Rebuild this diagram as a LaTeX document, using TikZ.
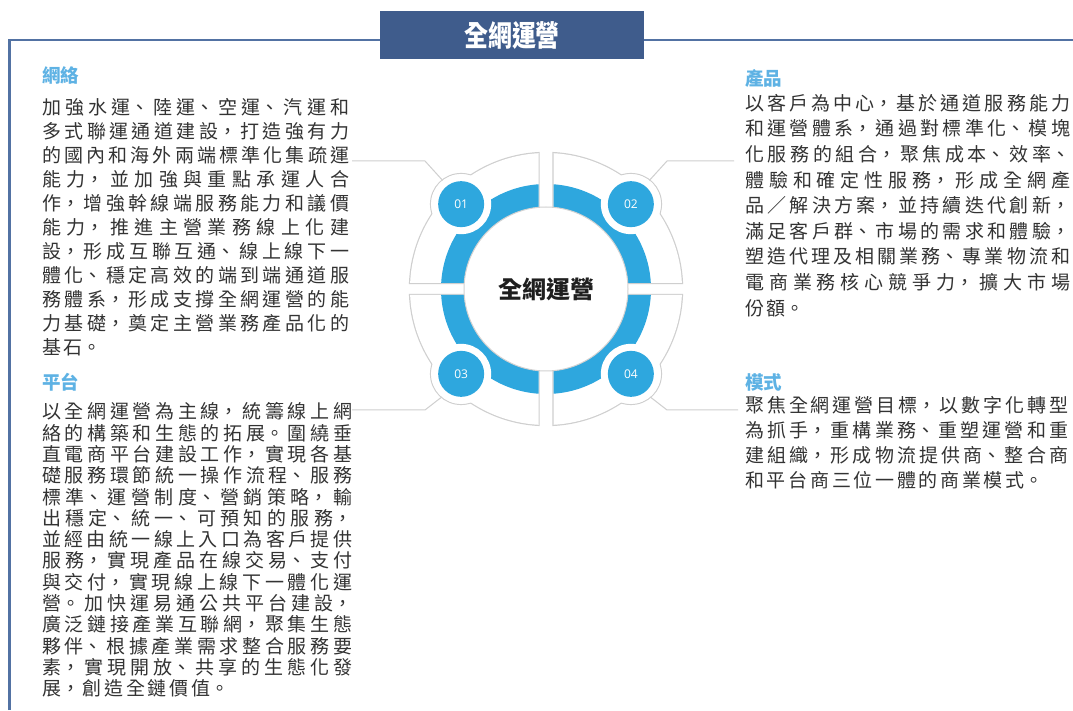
\documentclass[tikz,border=0pt]{standalone}
\usepackage{graphicx}
\usepackage{fontspec}
\setmainfont{Noto Sans CJK TC}
\newfontfamily\numfont{Open Sans}
\usetikzlibrary{calc}
\XeTeXlinebreaklocale "zh"
\XeTeXlinebreakskip=0pt plus 1fil
\definecolor{hdrblue}{HTML}{3F5C8C}
\definecolor{framecol}{HTML}{5272A3}
\definecolor{ringblue}{HTML}{2EA7DE}
\definecolor{headblue}{HTML}{5EB2E4}
\definecolor{textgray}{HTML}{333333}
\definecolor{secgray}{HTML}{CFCFCF}
\newcommand{\bodysetup}{\parindent=0pt\parfillskip=0pt plus 1fill\XeTeXlinebreakskip=2.7pt plus 1fil\relax}
\begin{document}
\begin{tikzpicture}[x=1pt,y=1pt,
  frame/.style={draw=framecol, line width=2.6pt},
  secline/.style={draw=secgray, line width=2.4pt},
  conn/.style={draw=secgray, line width=1pt},
  bump/.style={circle, fill=white, minimum size=60pt, inner sep=0pt},
  num/.style={circle, fill=ringblue, minimum size=46pt, inner sep=0pt, text=white, font=\numfont\fontsize{12}{14}\selectfont},
  head/.style={anchor=west, inner sep=0pt, text=headblue, font=\bfseries\fontsize{18.5}{20}\selectfont},
  body/.style={anchor=north west, inner sep=0pt, text=textgray}
]
\useasboundingbox (0,0) rectangle (1073,710);
\fill[white] (0,0) rectangle (1073,710);
\coordinate (C) at (546,421);

% header and frame
\node[fill=hdrblue, minimum width=264pt, minimum height=48pt, inner sep=0pt, text=white, font=\bfseries\fontsize{26}{28}\selectfont] (hdr) at (512,675) {\raisebox{1.5pt}{\scalebox{0.92}[1.12]{全網運營}}};
\coordinate (f1) at (9.5,0);
\coordinate (f2) at (9.5,670);
\coordinate (f3) at (1073,670);
\draw[frame] (f1) -- (f2) -- (hdr.west |- f2);
\draw[frame] (hdr.east |- f2) -- (f3);

% gray sectors (union outline)
\foreach \s/\e/\xx/\yy in {93.16/177.47/538.5/427, 86.84/2.53/553.5/427, 266.84/182.53/538.5/415, 273.16/357.47/553.5/415}{
  \draw[secline] (\xx,\yy) -- ($(C)+(\s:136pt)$) arc[start angle=\s,end angle=\e,radius=136pt] -- cycle;
}
\foreach \a in {45,135,225,315}{
  \draw[secline] ($(C)+(\a:120pt)$) circle (30pt);
}
\foreach \s/\e/\xx/\yy in {93.16/177.47/538.5/427, 86.84/2.53/553.5/427, 266.84/182.53/538.5/415, 273.16/357.47/553.5/415}{
  \fill[white] (\xx,\yy) -- ($(C)+(\s:136pt)$) arc[start angle=\s,end angle=\e,radius=136pt] -- cycle;
}
\foreach \a in {45,135,225,315}{
  \fill[white] ($(C)+(\a:120pt)$) circle (30pt);
}

% blue ring
\begin{scope}
  \clip (400,427) rectangle (538.5,560) (553.5,427) rectangle (700,560)
        (400,280) rectangle (538.5,415) (553.5,280) rectangle (700,415);
  \fill[ringblue] (C) circle (105pt);
\end{scope}

% bumps and numbers
\node[bump] (b1) at ($(C)+(135:120pt)$) {};
\node[bump] (b2) at ($(C)+(45:120pt)$) {};
\node[bump] (b3) at ($(C)+(225:120pt)$) {};
\node[bump] (b4) at ($(C)+(315:120pt)$) {};
\node[num] (n1) at (b1) {01};
\node[num] (n2) at (b2) {02};
\node[num] (n3) at (b3) {03};
\node[num] (n4) at (b4) {04};

% centre
\node[circle, fill=white, draw=black!18, line width=1pt, minimum size=164pt, inner sep=0pt,
      font=\bfseries\fontsize{24}{28}\selectfont, text=black!88] (c) at (C) {全網運營};

% connectors
\coordinate (k1) at (425,549); \coordinate (t1) at (352,549);
\coordinate (k2) at (667,549); \coordinate (t2) at (734,549);
\coordinate (k3) at (425,300); \coordinate (t3) at (352,300);
\coordinate (k4) at (667,300); \coordinate (t4) at (738,300);
\draw[conn] (b1.128) -- (k1) -- (t1);
\draw[conn] (b2.52) -- (k2) -- (t2);
\draw[conn] (b3.230) -- (k3) -- (t3);
\draw[conn] (b4.310) -- (k4) -- (t4);

% headings
\node[head] (h1) at (42,635) {網絡};
\node[head] (h2) at (745,632) {產品};
\node[head] (h3) at (42,328) {平台};
\node[head] (h4) at (745,328) {模式};

% bodies
\node[body, text width=307pt, font=\fontsize{19}{24}\selectfont] (p1) at (42,612) {\bodysetup
加強水運、陸運、空運、汽運和\break
多式聯運通道建設，打造強有力\break
的國內和海外兩端標準化集疏運\break
能力，並加強與重點承運人合\break
作，增強幹線端服務能力和議價\break
能力，推進主營業務線上化建\break
設，形成互聯互通、線上線下一\break
體化、穩定高效的端到端通道服\break
務體系，形成支撐全網運營的能\break
力基礎，奠定主營業務產品化的\break
基石。\par};

\node[body, text width=325pt, font=\fontsize{19}{25.6}\selectfont] (p2) at (745,616) {\bodysetup
以客戶為中心，基於通道服務能力\break
和運營體系，通過對標準化、模塊\break
化服務的組合，聚焦成本、效率、\break
體驗和確定性服務，形成全網產\break
品／解決方案，並持續迭代創新，\break
滿足客戶群、市場的需求和體驗，\break
塑造代理及相關業務、專業物流和\break
電商業務核心競爭力，擴大市場\break
份額。\par};

\node[body, text width=310pt, font=\fontsize{19}{21.3}\selectfont] (p3) at (42,307.5) {\bodysetup
以全網運營為主線，統籌線上網\break
絡的構築和生態的拓展。圍繞垂\break
直電商平台建設工作，實現各基\break
礎服務環節統一操作流程、服務\break
標準、運營制度、營銷策略，輸\break
出穩定、統一、可預知的服務，\break
並經由統一線上入口為客戶提供\break
服務，實現產品在線交易、支付\break
與交付，實現線上線下一體化運\break
營。加快運易通公共平台建設，\break
廣泛鏈接產業互聯網，聚集生態\break
夥伴、根據產業需求整合服務要\break
素，實現開放、共享的生態化發\break
展，創造全鏈價值。\par};

\node[body, text width=323pt, font=\fontsize{19}{25}\selectfont] (p4) at (745,314) {\bodysetup
聚焦全網運營目標，以數字化轉型\break
為抓手，重構業務、重塑運營和重\break
建組織，形成物流提供商、整合商\break
和平台商三位一體的商業模式。\par};
\end{tikzpicture}
\end{document}
